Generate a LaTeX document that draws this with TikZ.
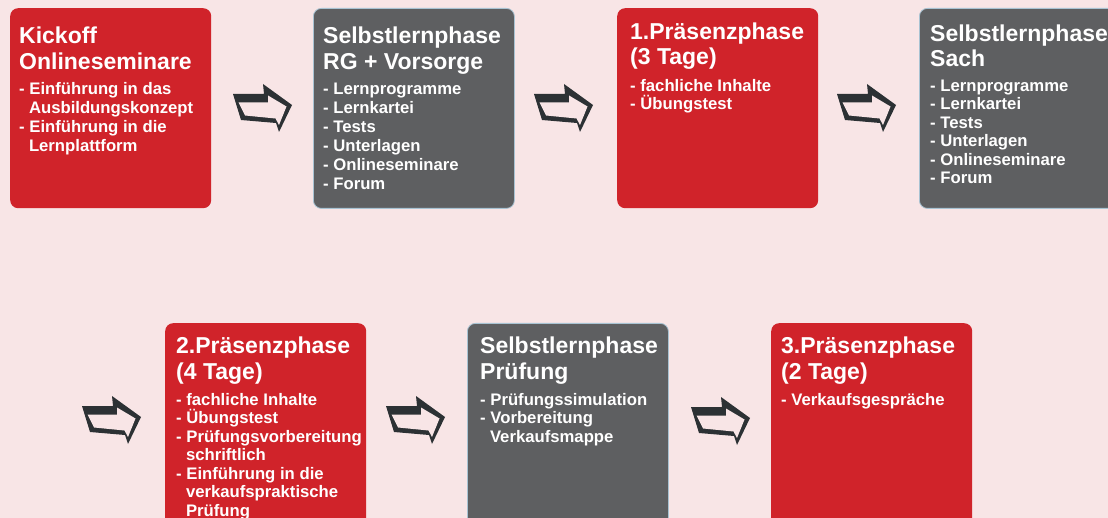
\documentclass[tikz,border=0pt]{standalone}
\usepackage{fontspec}
\setmainfont{Liberation Sans}
\definecolor{bgpink}{HTML}{F8E5E6}
\definecolor{boxred}{HTML}{D0232A}
\definecolor{boxgray}{HTML}{5E5F61}
\definecolor{arrowdark}{HTML}{2C3134}
\definecolor{edgeblue}{HTML}{A8C3D3}
\newcommand\ttlf{\fontsize{23}{25.5}\selectfont\bfseries}
\newcommand\bdyf{\fontsize{16.7}{19}\selectfont\bfseries}
\newcommand\bdyg{\fontsize{16.7}{18.5}\selectfont\bfseries}
\newcommand\itm{\par\hangindent=9.8pt\hangafter=1\noindent-\ }
\newcommand\tb[1]{\begin{minipage}[t]{230pt}\raggedright #1\end{minipage}}
\tikzset{
  phase/.style={rectangle, rounded corners=8pt, anchor=north west, minimum width=201pt, minimum height=200pt, inner sep=0pt},
  redbox/.style={phase, fill=boxred},
  graybox/.style={phase, fill=boxgray, draw=edgeblue, line width=0.8pt},
  txt/.style={anchor=base west, inner sep=0pt, text=white},
  pics/larrow/.style={code={
    \fill[arrowdark] (0,0) -- (31,0) -- (30,-10) -- (59,11) -- (46,38) -- (43,29) -- (8,26) -- cycle;
    \fill[bgpink] (5.5,8.5) -- (35,8.5) -- (35,1.5) -- (53.5,12.5) -- (46,31) -- (42.5,24.5) -- (12,21.5) -- cycle;
  }}
}
\begin{document}
\begin{tikzpicture}[x=1pt,y=-1pt]
\clip (0,0) rectangle (1108,518);
\fill[bgpink] (0,0) rectangle (1108,518);
% row 1
\node[redbox] (b1) at (10,8) {};
\node[graybox] (b2) at (313,8) {};
\node[redbox] (b3) at (617,8) {};
\node[graybox, minimum width=220pt] (b4) at (919,8) {};
% row 2
\node[redbox, minimum height=215pt] (b5) at (165,323) {};
\node[graybox, minimum height=215pt] (b6) at (467,323) {};
\node[redbox, minimum height=215pt] (b7) at (771,323) {};
% texts
\node[txt] (t1) at (19,44) {\tb{\ttlf Kickoff\\Onlineseminare}};
\node[txt] (c1) at (19,95) {\tb{\bdyf\itm Einführung in das\newline Ausbildungskonzept\itm Einführung in die\newline Lernplattform}};
\node[txt] (t2) at (323,44) {\tb{\ttlf Selbstlernphase\\RG + Vorsorge}};
\node[txt] (c2) at (323,95) {\tb{\bdyf\itm Lernprogramme\itm Lernkartei\itm Tests\itm Unterlagen\itm Onlineseminare\itm Forum}};
\node[txt] (t3) at (630,39.5) {\tb{\ttlf 1.Präsenzphase\\(3 Tage)}};
\node[txt] (c3) at (630,91.5) {\tb{\bdyg\itm fachliche Inhalte\itm Übungstest}};
\node[txt] (t4) at (930,41.5) {\tb{\ttlf Selbstlernphase\\Sach}};
\node[txt] (c4) at (930,91.5) {\tb{\bdyg\itm Lernprogramme\itm Lernkartei\itm Tests\itm Unterlagen\itm Onlineseminare\itm Forum}};
\node[txt] (t5) at (176,353.5) {\tb{\ttlf 2.Präsenzphase\\(4 Tage)}};
\node[txt] (c5) at (176,405) {\tb{\bdyg\itm fachliche Inhalte\itm Übungstest\itm Prüfungsvorbereitung\newline schriftlich\itm Einführung in die\newline verkaufspraktische\newline Prüfung}};
\node[txt] (t6) at (480,353.5) {\tb{\ttlf Selbstlernphase\\Prüfung}};
\node[txt] (c6) at (480,405) {\tb{\bdyg\itm Prüfungssimulation\itm Vorbereitung\newline Verkaufsmappe}};
\node[txt] (t7) at (781,353.5) {\tb{\ttlf 3.Präsenzphase\\(2 Tage)}};
\node[txt] (c7) at (781,405) {\tb{\bdyg\itm Verkaufsgespräche}};
% arrows
\pic at (233,94) {larrow};
\pic at (534,94) {larrow};
\pic at (837,94) {larrow};
\pic at (82,406) {larrow};
\pic at (386,406) {larrow};
\pic at (691,407) {larrow};
\end{tikzpicture}
\end{document}
